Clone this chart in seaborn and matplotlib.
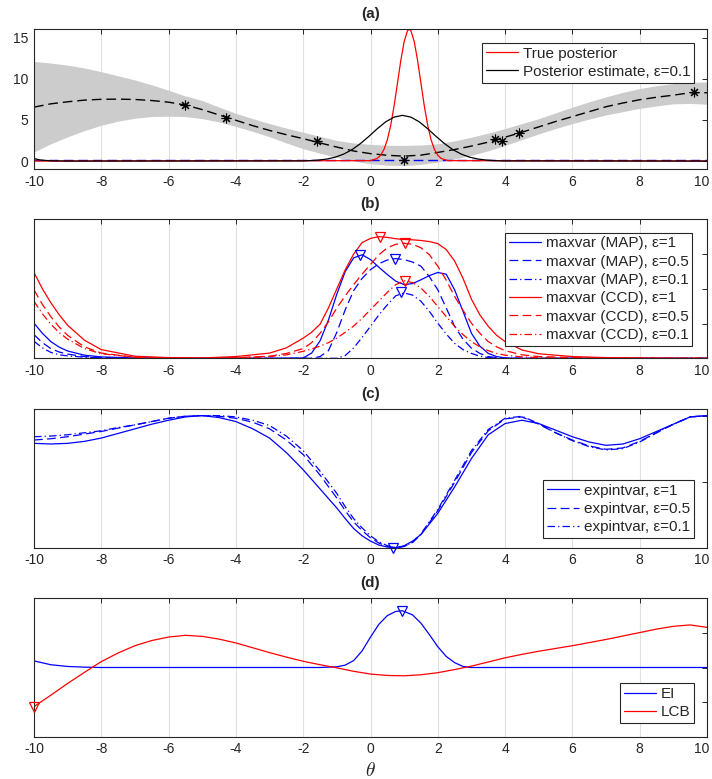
import matplotlib
matplotlib.use("Agg")
import matplotlib.pyplot as plt
import matplotlib.transforms as mtransforms
import seaborn as sns

# ---------------- panel (a): GP fit and posteriors ----------------
theta_gp = [-10, -9.5, -9, -8.5, -8, -7.5, -7, -6.5, -6, -5.5, -5, -4.5, -4, -3.5, -3,
            -2.5, -2, -1.5, -1, -0.5, 0, 0.5, 1, 1.5, 2, 2.5, 3, 3.5, 4, 4.5, 5,
            5.5, 6, 6.5, 7, 7.5, 8, 8.5, 9, 9.5, 10]
gp_mean = [6.55, 6.95, 7.2, 7.4, 7.5, 7.52, 7.48, 7.35, 7.15, 6.8, 6.25, 5.6, 4.95, 4.3, 3.72,
           3.2, 2.72, 2.2, 1.7, 1.22, 0.9, 0.7, 0.6, 0.72, 1.05, 1.4, 1.82, 2.3, 2.9, 3.5, 4.15,
           4.8, 5.4, 6.0, 6.6, 7.05, 7.45, 7.75, 8.0, 8.3, 8.3]
gp_upper = [12.1, 11.9, 11.65, 11.3, 10.85, 10.35, 9.85, 9.25, 8.6, 7.9, 7.35, 6.55, 5.8, 5.15, 4.55,
            4.0, 3.5, 3.0, 2.5, 2.2, 2.02, 1.92, 1.9, 1.95, 2.1, 2.45, 2.9, 3.4, 3.95, 4.55, 5.15,
            5.85, 6.55, 7.2, 7.8, 8.35, 8.8, 9.15, 9.4, 9.55, 9.6]
gp_lower = [1.1, 2.1, 2.95, 3.7, 4.35, 4.85, 5.2, 5.4, 5.45, 5.4, 5.15, 4.75, 4.2, 3.6, 2.95,
            2.2, 1.5, 0.95, 0.45, 0.0, -0.33, -0.5, -0.55, -0.4, -0.12, 0.25, 0.7, 1.25, 1.9, 2.6, 3.3,
            3.95, 4.55, 5.1, 5.6, 6.0, 6.4, 6.7, 6.95, 7.0, 6.9]

theta_obs = [-5.5, -4.3, -1.6, 1.0, 3.7, 3.9, 4.4, 9.6]
y_obs = [6.85, 5.25, 2.4, 0.1, 2.65, 2.45, 3.35, 8.35]

theta_true = [-10, 0.0, 0.2, 0.3, 0.4, 0.5, 0.6, 0.7, 0.8, 0.9, 1.0, 1.1, 1.15, 1.2,
              1.3, 1.4, 1.5, 1.6, 1.7, 1.8, 1.9, 2.0, 2.1, 2.3, 10]
post_true = [0, 0.05, 0.32, 0.70, 1.41, 2.58, 4.33, 6.67, 9.42, 12.2, 14.5, 15.83, 16.0, 15.83,
             14.5, 12.2, 9.42, 6.67, 4.33, 2.58, 1.41, 0.70, 0.32, 0.05, 0]

theta_est = [-10, -9.8, -9.5, -9, -2.05, -1.8, -1.55, -1.3, -1.05, -0.8, -0.55, -0.3, -0.05,
             0.2, 0.45, 0.7, 0.95, 1.2, 1.45, 1.7, 1.95, 2.2, 2.45, 2.7, 2.95, 3.2, 3.45,
             3.7, 3.95, 10]
post_est = [0.3, 0.12, 0.03, 0.0, 0.02, 0.05, 0.12, 0.24, 0.47, 0.84, 1.38, 2.12, 2.99,
            3.92, 4.76, 5.34, 5.55, 5.34, 4.76, 3.92, 2.99, 2.12, 1.38, 0.84, 0.47, 0.24, 0.12,
            0.05, 0.02, 0]

theta_eps = [-10, 10]
eps_line = [0.1, 0.1]

# ---------------- panel (b): maxvar ----------------
theta_b = [-10, -9.75, -9.5, -9.25, -9, -8.5, -8, -7, -6, -5, -4, -3, -2.5, -2, -1.75, -1.5,
           -1.25, -1, -0.75, -0.5, -0.25, 0, 0.25, 0.5, 0.75, 1, 1.25, 1.5, 1.75, 2, 2.25,
           2.5, 2.75, 3, 3.25, 3.5, 3.75, 4, 4.5, 5, 6, 7, 8, 10]
map_e1 = [1.01, 0.72, 0.48, 0.32, 0.21, 0.09, 0.04, 0.01, 0, 0, 0, 0, 0, 0.01, 0.15, 0.5,
          1.1, 1.85, 2.5, 2.89, 2.98, 2.84, 2.62, 2.41, 2.22, 2.12, 2.15, 2.26, 2.38, 2.47, 2.42,
          1.97, 1.35, 0.72, 0.35, 0.14, 0.05, 0.01, 0, 0, 0, 0, 0, 0]
map_e05 = [0.68, 0.45, 0.28, 0.18, 0.12, 0.05, 0.02, 0, 0, 0, 0, 0, 0, 0, 0, 0.05,
           0.22, 0.75, 1.4, 1.95, 2.3, 2.55, 2.72, 2.83, 2.87, 2.84, 2.77, 2.65, 2.35, 1.97, 1.45,
           0.92, 0.55, 0.29, 0.14, 0.05, 0.02, 0, 0, 0, 0, 0, 0, 0]
map_e01 = [0.49, 0.3, 0.17, 0.1, 0.07, 0.03, 0.01, 0, 0, 0, 0, 0, 0, 0, 0, 0,
           0, 0, 0.08, 0.3, 0.6, 0.92, 1.25, 1.54, 1.8, 1.88, 1.82, 1.64, 1.35, 1.01, 0.7,
           0.43, 0.25, 0.14, 0.06, 0.02, 0.01, 0, 0, 0, 0, 0, 0, 0]
ccd_e1 = [2.47, 2.0, 1.6, 1.25, 0.95, 0.52, 0.25, 0.06, 0.02, 0.01, 0.05, 0.15, 0.3, 0.58, 0.75, 0.98,
          1.45, 2.0, 2.55, 3.0, 3.33, 3.45, 3.5, 3.48, 3.44, 3.42, 3.41, 3.39, 3.36, 3.3, 3.13,
          2.8, 2.3, 1.7, 1.25, 0.92, 0.66, 0.48, 0.24, 0.13, 0.05, 0.02, 0.01, 0]
ccd_e05 = [1.97, 1.55, 1.2, 0.9, 0.66, 0.33, 0.15, 0.03, 0.01, 0, 0.02, 0.06, 0.14, 0.28, 0.45, 0.72,
           1.05, 1.45, 1.8, 2.12, 2.42, 2.7, 2.98, 3.18, 3.28, 3.31, 3.28, 3.18, 2.98, 2.65, 2.25,
           1.78, 1.38, 1.01, 0.72, 0.48, 0.33, 0.22, 0.1, 0.05, 0.02, 0.01, 0, 0]
ccd_e01 = [1.64, 1.28, 0.98, 0.74, 0.55, 0.28, 0.13, 0.03, 0.01, 0, 0.01, 0.05, 0.1, 0.2, 0.27, 0.35,
           0.45, 0.58, 0.75, 0.93, 1.15, 1.4, 1.65, 1.9, 2.12, 2.23, 2.18, 2.02, 1.78, 1.49, 1.2,
           0.92, 0.68, 0.48, 0.33, 0.22, 0.14, 0.09, 0.04, 0.02, 0, 0, 0, 0]
# acquisition points (triangles)
b_pts_theta = [-0.31, 0.73, 0.9, 0.28, 1.03, 1.03]
b_pts_val = [2.97, 2.87, 1.9, 3.5, 3.31, 2.23]

# ---------------- panel (c): expintvar ----------------
theta_c = [-10, -9.5, -9, -8.5, -8, -7.5, -7, -6.5, -6, -5.5, -5, -4.5, -4, -3.5, -3, -2.5, -2,
           -1.5, -1, -0.75, -0.5, -0.25, 0, 0.25, 0.5, 0.75, 1, 1.25, 1.5, 2, 2.5, 3, 3.5, 4,
           4.5, 5, 5.5, 6, 6.5, 7, 7.5, 8, 8.5, 9, 9.5, 10]
eiv_e1 = [1.58, 1.57, 1.58, 1.61, 1.66, 1.73, 1.80, 1.87, 1.93, 1.98, 2.0, 1.97, 1.91, 1.80, 1.66, 1.44, 1.18,
          0.89, 0.60, 0.44, 0.29, 0.18, 0.1, 0.04, 0.01, 0.0, 0.03, 0.1, 0.2, 0.52, 0.92, 1.35, 1.71, 1.88,
          1.93, 1.88, 1.78, 1.68, 1.6, 1.55, 1.57, 1.65, 1.76, 1.87, 1.98, 2.0]
eiv_e05 = [1.63, 1.65, 1.68, 1.72, 1.76, 1.81, 1.86, 1.91, 1.96, 1.99, 2.0, 1.99, 1.96, 1.9, 1.80, 1.63, 1.41,
           1.1, 0.75, 0.56, 0.39, 0.26, 0.15, 0.07, 0.02, 0.0, 0.02, 0.08, 0.2, 0.56, 0.99, 1.44, 1.77, 1.95,
           1.98, 1.87, 1.74, 1.63, 1.54, 1.49, 1.51, 1.61, 1.74, 1.87, 1.98, 2.0]
eiv_e01 = [1.68, 1.69, 1.71, 1.74, 1.77, 1.82, 1.86, 1.91, 1.96, 1.99, 2.0, 2.0, 1.98, 1.93, 1.85, 1.69, 1.47,
           1.16, 0.82, 0.62, 0.44, 0.3, 0.18, 0.09, 0.03, 0.0, 0.02, 0.08, 0.21, 0.58, 1.02, 1.47, 1.79, 1.96,
           1.99, 1.88, 1.74, 1.62, 1.53, 1.48, 1.5, 1.6, 1.74, 1.87, 1.98, 2.0]
c_pt_theta = [0.67]
c_pt_val = [0.0]

# ---------------- panel (d): EI and LCB ----------------
theta_ei = [-10, -9.5, -9, -8.5, -8, -6, -4, -2, -1.5, -1, -0.75, -0.5, -0.25, 0, 0.25, 0.5,
            0.75, 0.95, 1.25, 1.5, 1.75, 2, 2.25, 2.5, 2.75, 3, 4, 6, 8, 10]
ei_val = [2.19, 2.08, 2.03, 2.01, 2.0, 2.0, 2.0, 2.0, 2.0, 2.02, 2.07, 2.2, 2.48, 2.88, 3.25, 3.5,
          3.62, 3.64, 3.52, 3.28, 2.95, 2.6, 2.32, 2.14, 2.03, 2.0, 2.0, 2.0, 2.0, 2.0]
theta_lcb = theta_gp
lcb_val = [0.87, 1.2, 1.54, 1.86, 2.17, 2.42, 2.63, 2.78, 2.88, 2.93, 2.9, 2.82, 2.71, 2.57, 2.43,
           2.3, 2.18, 2.08, 1.99, 1.89, 1.81, 1.77, 1.76, 1.79, 1.85, 1.94, 2.04, 2.16, 2.28, 2.38, 2.47,
           2.55, 2.63, 2.72, 2.81, 2.91, 3.01, 3.11, 3.19, 3.23, 3.16]
d_pt_theta = [0.95, -10]
d_pt_val = [3.64, 0.87]

# ---------------- style ----------------
sns.set_theme(style="white")
plt.rcParams["font.family"] = ["Liberation Sans", "DejaVu Sans"]
plt.rcParams["axes.unicode_minus"] = False
plt.rcParams["mathtext.fontset"] = "cm"

BLUE = "#0000ff"
RED = "#ff0000"
DARK = "#262626"
DASH = (0, (7, 3.5))
DASHDOT = (0, (6, 2.5, 1, 2.5))
LW = 0.9

fig = plt.figure(figsize=(7.12, 7.79), dpi=100)


def make_ax(top_px, bot_px):
    return fig.add_axes([34 / 712, 1 - bot_px / 779, 673 / 712, (bot_px - top_px) / 779])


def style(ax, ylim, yticks, title, show_ylabels=False):
    ax.set_xlim(-10, 10)
    ax.set_ylim(*ylim)
    ax.set_xticks(range(-10, 11, 2))
    ax.set_yticks(yticks)
    if not show_ylabels:
        ax.set_yticklabels([])
    ax.set_xlabel("")
    ax.set_ylabel("")
    ax.grid(axis="x", color="#e0e0e0", lw=0.8)
    ax.grid(axis="y", visible=False)
    ax.set_axisbelow(True)
    ax.tick_params(direction="in", top=True, right=True, length=3.5, width=0.7,
                   labelsize=10, color=DARK, labelcolor=DARK, pad=4)
    for sp in ax.spines.values():
        sp.set_color(DARK)
        sp.set_linewidth(0.8)
    ax.set_title(title, fontsize=11, fontweight="bold", pad=8)
    # keep the last x label ("10") inside the canvas
    last = ax.get_xticklabels()[-1]
    last.set_transform(last.get_transform() +
                       mtransforms.ScaledTranslation(-5 / 100, 0, fig.dpi_scale_trans))


def add_legend(ax, handles, labels, anchor, loc):
    leg = ax.legend(handles, labels, loc=loc, bbox_to_anchor=anchor, fontsize=11,
                    frameon=True, fancybox=False, edgecolor=DARK, framealpha=1,
                    borderaxespad=0, handlelength=2.1, handletextpad=0.3,
                    borderpad=0.25, labelspacing=0.28)
    leg.get_frame().set_linewidth(0.8)


def line(ax, x, y, color, ls="-", lw=LW):
    sns.lineplot(x=x, y=y, ax=ax, color=color, linestyle=ls, lw=lw, sort=False)
    return ax.lines[-1]


# (a)
ax = make_ax(29.3, 169.3)
ax.fill_between(theta_gp, gp_lower, gp_upper, color="#cccccc", lw=0, zorder=1)
line(ax, theta_gp, gp_mean, "black", DASH, 1.0)
line(ax, theta_eps, eps_line, BLUE, DASH, 1.0)
h_true = line(ax, theta_true, post_true, RED)
h_est = line(ax, theta_est, post_est, "black")
ax.plot(theta_obs, y_obs, ls="none", marker=(8, 2, 0), ms=7, mew=0.8, color="black", zorder=5)
style(ax, (-1, 16), [0, 5, 10, 15], "(a)", show_ylabels=True)
add_legend(ax, [h_true, h_est], ["True posterior", "Posterior estimate, \u03b5=0.1"],
           (0.981, 0.904), "upper right")

# (b)
ax = make_ax(219.3, 358.3)
hb = [line(ax, theta_b, map_e1, BLUE),
      line(ax, theta_b, map_e05, BLUE, DASH),
      line(ax, theta_b, map_e01, BLUE, DASHDOT),
      line(ax, theta_b, ccd_e1, RED),
      line(ax, theta_b, ccd_e05, RED, DASH),
      line(ax, theta_b, ccd_e01, RED, DASHDOT)]
for i, (t, v) in enumerate(zip(b_pts_theta, b_pts_val)):
    ax.plot([t], [v], ls="none", marker="v", ms=7, mfc="none", mew=0.9,
            color=BLUE if i < 3 else RED, zorder=5)
style(ax, (0, 4), [0, 1, 2, 3, 4], "(b)")
add_legend(ax, hb, ["maxvar (MAP), \u03b5=1", "maxvar (MAP), \u03b5=0.5", "maxvar (MAP), \u03b5=0.1",
                    "maxvar (CCD), \u03b5=1", "maxvar (CCD), \u03b5=0.5", "maxvar (CCD), \u03b5=0.1"],
           (0.978, 0.904), "upper right")

# (c)
ax = make_ax(409, 547.7)
hc = [line(ax, theta_c, eiv_e1, BLUE),
      line(ax, theta_c, eiv_e05, BLUE, DASH),
      line(ax, theta_c, eiv_e01, BLUE, DASHDOT)]
ax.plot(c_pt_theta, c_pt_val, ls="none", marker="v", ms=7, mfc="none", mew=0.9,
        color=BLUE, zorder=5, clip_on=False)
style(ax, (0, 2.1), [0, 1, 2], "(c)")
add_legend(ax, hc, ["expintvar, \u03b5=1", "expintvar, \u03b5=0.5", "expintvar, \u03b5=0.1"],
           (0.98, 0.07), "lower right")

# (d)
ax = make_ax(598.3, 736.7)
hd = [line(ax, theta_ei, ei_val, BLUE),
      line(ax, theta_lcb, lcb_val, RED)]
ax.plot(d_pt_theta[:1], d_pt_val[:1], ls="none", marker="v", ms=7, mfc="none", mew=0.9,
        color=BLUE, zorder=5, clip_on=False)
ax.plot(d_pt_theta[1:], d_pt_val[1:], ls="none", marker="v", ms=7, mfc="none", mew=0.9,
        color=RED, zorder=5, clip_on=False)
style(ax, (0, 4), [0, 1, 2, 3, 4], "(d)")
add_legend(ax, hd, ["EI", "LCB"], (0.981, 0.097), "lower right")
ax.set_xlabel(r"$\theta$", fontsize=14, labelpad=4, color=DARK)

fig.savefig("out.png", dpi=100)
